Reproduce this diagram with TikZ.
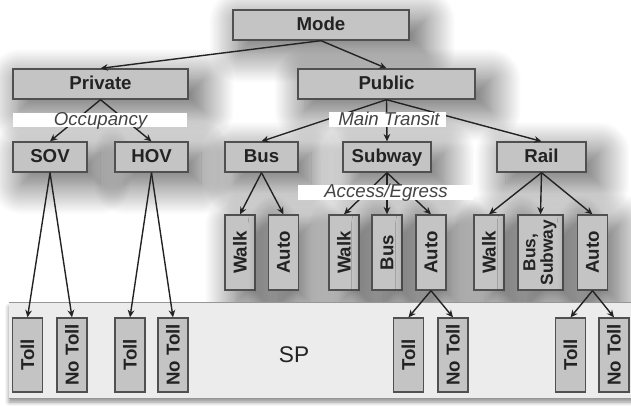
\documentclass[tikz,border=0pt]{standalone}
\usepackage{fontspec}
\setmainfont{Liberation Sans}
\usepackage{graphicx}
\usetikzlibrary{arrows.meta,shadows.blur}

\definecolor{boxfill}{RGB}{196,196,196}
\definecolor{boxline}{RGB}{80,80,80}
\definecolor{ink}{RGB}{35,35,35}
\definecolor{spfill}{RGB}{236,236,236}
\definecolor{spline}{RGB}{150,150,150}

\begin{document}
\begin{tikzpicture}[x=0.75pt,y=-0.75pt,
  haze/.style={blur shadow={shadow xshift=8pt, shadow yshift=-8pt, shadow scale=1.05,
      shadow blur radius=22pt, shadow blur steps=40, shadow opacity=64}},
  box/.style={draw=boxline, line width=1pt, fill=boxfill, inner sep=0pt,
      text=ink, font=\fontsize{14}{16}\selectfont\bfseries},
  hbox/.style={box, haze, minimum height=22.5pt, text height=10pt, text depth=2pt},
  vbox/.style={box, haze, minimum width=22.5pt, minimum height=56.25pt},
  leaf/.style={box, minimum width=22.5pt, minimum height=55.5pt},
  band/.style={fill=white, inner sep=0pt, minimum height=11pt},
  bandtext/.style={anchor=base, inner sep=0pt, text=ink!85,
      font=\fontsize{14}{16}\selectfont\itshape},
  link/.style={draw=ink, line width=1.05pt, -{Stealth[length=5.5pt,width=5pt]}}
]
\useasboundingbox (0,0) rectangle (631,405);

% upper levels
\node[hbox, minimum width=132pt]   (mode)    at (321,25)    {Mode};
\node[hbox, minimum width=131.25pt](private) at (100.5,84)  {Private};
\node[hbox, minimum width=132.75pt](public)  at (386.5,84)  {Public};
\node[hbox, minimum width=55.5pt]  (sov)     at (50,157)    {SOV};
\node[hbox, minimum width=54.75pt] (hov)     at (151.5,157) {HOV};
\node[hbox, minimum width=54.75pt] (bus)     at (261.5,157) {Bus};
\node[hbox, minimum width=66pt]    (subway)  at (387,157)   {Subway};
\node[hbox, minimum width=66.75pt] (rail)    at (541.5,157) {Rail};

% access / egress alternatives
\node[vbox] (bwalk) at (240,252.5)   {\rotatebox{90}{Walk}};
\node[vbox] (bauto) at (283.5,252.5) {\rotatebox{90}{Auto}};
\node[vbox] (swalk) at (344,252.5)   {\rotatebox{90}{Walk}};
\node[vbox] (sbus)  at (387,252.5)   {\rotatebox{90}{Bus}};
\node[vbox] (sauto) at (431,252.5)   {\rotatebox{90}{Auto}};
\node[vbox] (rwalk) at (489,252.5)   {\rotatebox{90}{Walk}};
\node[vbox, minimum width=33.75pt] (rbus) at (540.5,252.5)
  {\rotatebox{90}{\fontsize{13}{12}\selectfont\begin{tabular}{@{}c@{}}Bus,\\Subway\end{tabular}}};
\node[vbox] (rauto) at (592.5,252.5) {\rotatebox{90}{Auto}};

% stated-preference strip along the bottom, laid over the shadows above it
\node[fill=spfill, inner sep=0pt, minimum width=468pt, minimum height=71.25pt,
      blur shadow={shadow xshift=0pt, shadow yshift=-3pt, shadow blur radius=3pt, shadow opacity=45}]
      (spband) at (321,350.5) {};
\draw[spline, line width=0.8pt] (spband.north west) -- (spband.north east);
\draw[spline, line width=0.8pt] (spband.south west) -- (spband.south east);
\node[font=\fontsize{17}{20}\selectfont, text=ink, inner sep=0pt] (sp) at (294,355) {SP};

% toll / no toll leaves
\node[leaf] (t1) at (27.5,355)  {\rotatebox{90}{Toll}};
\node[leaf] (n1) at (72,355)    {\rotatebox{90}{No Toll}};
\node[leaf] (t2) at (130,355)   {\rotatebox{90}{Toll}};
\node[leaf] (n2) at (173,355)   {\rotatebox{90}{No Toll}};
\node[leaf] (t3) at (408.5,355) {\rotatebox{90}{Toll}};
\node[leaf] (n3) at (453,355)   {\rotatebox{90}{No Toll}};
\node[leaf] (t4) at (570.5,355) {\rotatebox{90}{Toll}};
\node[leaf] (n4) at (614,355)   {\rotatebox{90}{No Toll}};

% connectors
\draw[link] (mode.south) -- (private.north);
\draw[link] (mode.south) -- (public.north);
\draw[link] (private.south) -- (sov.north);
\draw[link] (private.south) -- (hov.north);
\draw[link] (public.south) -- (bus.north);
\draw[link] (public.south) -- (subway.north);
\draw[link] (public.south) -- (rail.north);
\draw[link] (bus.south) -- (bwalk.north);
\draw[link] (bus.south) -- (bauto.north);
\draw[link] (subway.south) -- (swalk.north);
\draw[link] (subway.south) -- (sbus.north);
\draw[link] (subway.south) -- (sauto.north);
\draw[link] (rail.south) -- (rwalk.north);
\draw[link] (rail.south) -- (rbus.north);
\draw[link] (rail.south) -- (rauto.north);
\draw[link] (sov.south) -- (t1.north);
\draw[link] (sov.south) -- (n1.north);
\draw[link] (hov.south) -- (t2.north);
\draw[link] (hov.south) -- (n2.north);
\draw[link] (sauto.south) -- (t3.north);
\draw[link] (sauto.south) -- (n3.north);
\draw[link] (rauto.south) -- (t4.north);
\draw[link] (rauto.south) -- (n4.north);

% nest labels on white strips
\node[band, minimum width=130.5pt, minimum height=10.5pt] (occ) at (100,120) {};
\node[bandtext] at (100.5,125) {Occupancy};
\node[band, minimum width=87.75pt] (main) at (387.5,119.5) {};
\node[bandtext] at (389,125) {Main Transit};
\node[band, minimum width=131.25pt] (acc) at (385.5,192.5) {};
\node[bandtext] at (386,197) {Access/Egress};
\end{tikzpicture}
\end{document}
